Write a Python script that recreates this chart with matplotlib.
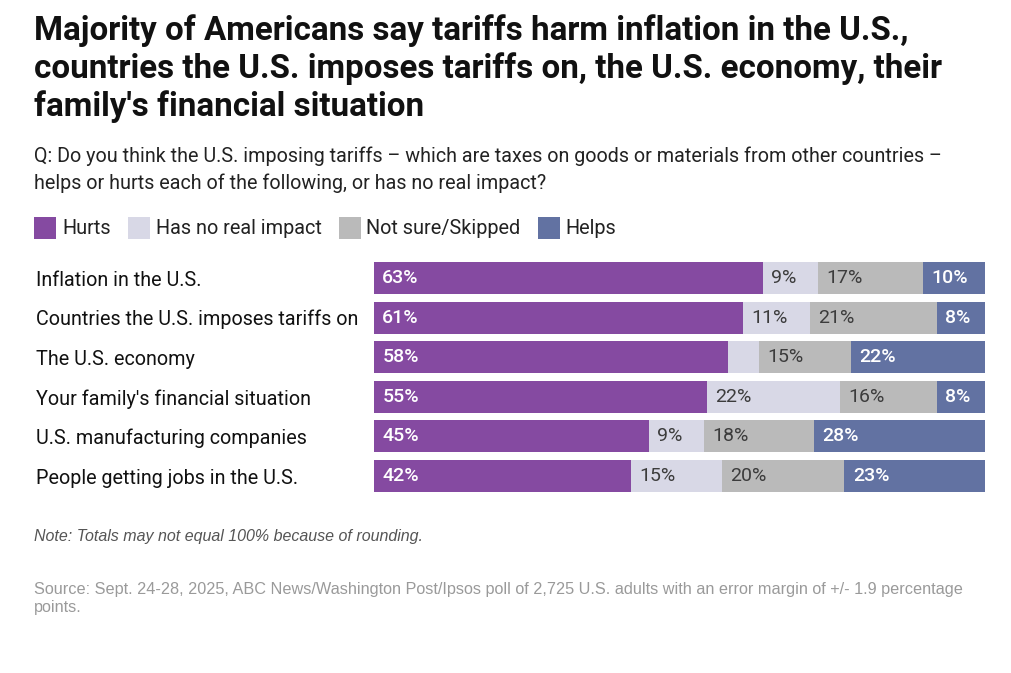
import matplotlib
matplotlib.use("Agg")
import matplotlib.pyplot as plt
from matplotlib.patches import Rectangle
import numpy as np

categories = [
    "Inflation in the U.S.",
    "Countries the U.S. imposes tariffs on",
    "The U.S. economy",
    "Your family's financial situation",
    "U.S. manufacturing companies",
    "People getting jobs in the U.S.",
]
series_names = ["Hurts", "Has no real impact", "Not sure/Skipped", "Helps"]
hurts = [63, 61, 58, 55, 45, 42]
no_impact = [9, 11, 5, 22, 9, 15]
not_sure = [17, 21, 15, 16, 18, 20]
helps = [10, 8, 22, 8, 28, 23]

colors = ["#854AA1", "#D8D8E6", "#BABABA", "#6272A2"]
label_colors = ["white", "#3C3C3C", "#3C3C3C", "white"]
label_weights = ["medium", "normal", "normal", "medium"]

W, H = 1011, 673
fig = plt.figure(figsize=(W / 100, H / 100), dpi=100)
fig.patch.set_facecolor("white")

FONT = ["Roboto", "DejaVu Sans"]
SANS2 = ["Liberation Sans", "DejaVu Sans"]

def fx(px):
    return px / W

def fy(py):
    return 1 - py / H

# Title
title_lines = [
    "Majority of Americans say tariffs harm inflation in the U.S.,",
    "countries the U.S. imposes tariffs on, the U.S. economy, their",
    "family's financial situation",
]
for i, line in enumerate(title_lines):
    fig.text(fx(34), fy(40 + 38 * i), line, fontsize=23.9, fontweight="bold",
             family=FONT, color="#111111", va="baseline", ha="left")

sub_lines = [
    "Q: Do you think the U.S. imposing tariffs \u2013 which are taxes on goods or materials from other countries \u2013",
    "helps or hurts each of the following, or has no real impact?",
]
for i, line in enumerate(sub_lines):
    fig.text(fx(34), fy(162 + 27 * i), line, fontsize=14.2, family=FONT,
             color="#222222", va="baseline", ha="left")

# Legend (manual)
fig.canvas.draw()
renderer = fig.canvas.get_renderer()
x = 34
sq = 22
ly = 228
for name, c in zip(series_names, colors):
    fig.patches.append(Rectangle((fx(x), fy(ly + sq / 2)), sq / W, sq / H,
                                 transform=fig.transFigure, facecolor=c,
                                 edgecolor="none"))
    t = fig.text(fx(x + sq + 6), fy(ly), name, fontsize=14.3, family=FONT,
                 color="#222222", va="center", ha="left")
    bb = t.get_window_extent(renderer=renderer)
    x = x + sq + 6 + bb.width + 17

# Axes for bars
top_px, bot_px = 258.2, 495.8
ax = fig.add_axes([fx(374), fy(bot_px), fx(985) - fx(374), (bot_px - top_px) / H])
y = np.arange(len(categories))
series = [np.array(s, dtype=float) for s in (hurts, no_impact, not_sure, helps)]
totals = sum(series)
left = np.zeros(len(categories))
for vals, c, lc, lw in zip(series, colors, label_colors, label_weights):
    widths = vals / totals * 100
    ax.barh(y, widths, left=left, height=0.81, color=c, edgecolor="none")
    for yi, (l, v) in enumerate(zip(left, vals)):
        if v >= 8:
            ax.annotate(f"{int(v)}%", xy=(l, yi), xytext=(6, 0),
                        textcoords="offset points", ha="left", va="center",
                        fontsize=14, family=FONT, color=lc, fontweight=lw)
    left = left + widths

ax.set_xlim(0, 100)
ax.set_ylim(len(categories) - 0.5, -0.5)
ax.set_yticks(y)
ax.set_yticklabels(categories, family=FONT, fontsize=14.2, color="#111111")
for lab in ax.get_yticklabels():
    lab.set_horizontalalignment("left")
ax.tick_params(axis="y", length=0, pad=(374 - 36) * 0.72)
ax.set_xticks([])
for s in ax.spines.values():
    s.set_visible(False)
ax.patch.set_alpha(0)

# Note and source
fig.text(fx(34), fy(541), "Note: Totals may not equal 100% because of rounding.",
         fontsize=11.5, style="italic", family=SANS2,
         color="#555555", va="baseline", ha="left")
fig.text(fx(34), fy(594),
         "Source: Sept. 24-28, 2025, ABC News/Washington Post/Ipsos poll of 2,725 U.S. adults with an error margin of +/- 1.9 percentage",
         fontsize=11.7, family=SANS2, color="#9A9A9A",
         va="baseline", ha="left")
fig.text(fx(34), fy(612), "points.", fontsize=11.7,
         family=SANS2, color="#9A9A9A", va="baseline", ha="left")

fig.savefig("out.png", dpi=100, facecolor="white")
